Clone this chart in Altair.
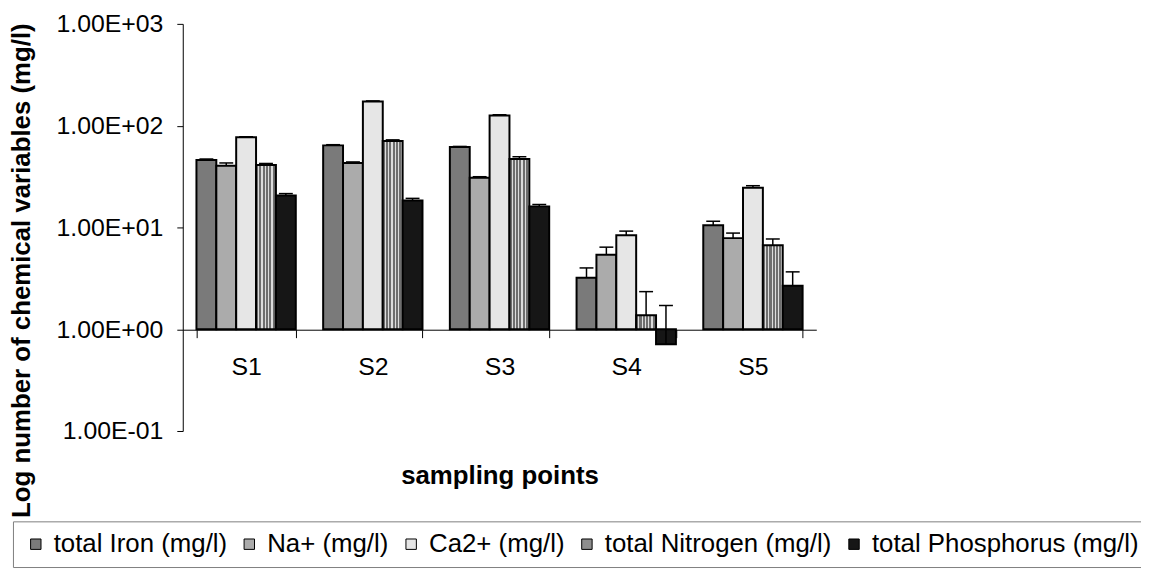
import altair as alt
import pandas as pd

sites = ["S1", "S2", "S3", "S4", "S5"]
series = ["total Iron (mg/l)", "Na+ (mg/l)", "Ca2+ (mg/l)",
          "total Nitrogen (mg/l)", "total Phosphorus (mg/l)"]

iron = [46, 64, 61.6, 3.2, 10.5]
sodium = [40.3, 43, 30.8, 5.4, 7.85]
calcium = [77, 173, 126, 8.4, 24.6]
nitrogen = [41, 70.5, 47, 1.37, 6.7]
phosphorus = [20.6, 18.4, 16.1, 0.71, 2.68]

iron_up = [47, 65, 62.5, 4.0, 11.5]
sodium_up = [43, 44, 31.5, 6.4, 8.8]
calcium_up = [78, 175, 128, 9.2, 25.7]
nitrogen_up = [42.5, 72.5, 49.5, 2.34, 7.7]
phosphorus_up = [21.5, 19.3, 16.8, 1.71, 3.66]

fills = ["#7a7a7a", "#ababab", "#e6e6e6", "#8e8e8e", "#161616"]

vals = [iron, sodium, calcium, nitrogen, phosphorus]
ups = [iron_up, sodium_up, calcium_up, nitrogen_up, phosphorus_up]
rows = []
for s, v, u in zip(series, vals, ups):
    for site, a, b in zip(sites, v, u):
        rows.append({"site": site, "series": s, "value": a, "upper": b})
df = pd.DataFrame(rows)

# vertical stripe texture for the nitrogen bars
stripe_stops = []
n_stripes = 6
for i in range(n_stripes):
    a = i / n_stripes
    b = (i + 0.62) / n_stripes
    c = (i + 1) / n_stripes
    stripe_stops += [
        {"offset": a, "color": "#6e6e6e"},
        {"offset": b, "color": "#6e6e6e"},
        {"offset": b, "color": "#dcdcdc"},
        {"offset": c, "color": "#dcdcdc"},
    ]
stripes = {"gradient": "linear", "x1": 0, "y1": 0, "x2": 1, "y2": 0,
           "stops": stripe_stops}

FONT = "Liberation Sans"
ytitle = "Log number of chemical variables (mg/l)"

yscale = alt.Scale(type="log", domain=[0.1, 1000])
yaxis = alt.Axis(
    values=[0.1, 1, 10, 100, 1000],
    labelExpr="'1.00E' + (round(log(datum.value)/LN10) < 0 ? '-' : '+') + '0' + abs(round(log(datum.value)/LN10))",
    grid=False, tickSize=6, labelPadding=14, labelFontSize=25, labelFont=FONT,
    labelColor="black", domainColor="black", tickColor="black",
    title=ytitle, titleFont=FONT, titleFontSize=26, titleFontWeight="bold",
    titleColor="black", titleX=-175, titleY=248, titleAngle=270,
    titleAlign="center", titleBaseline="top",
)
xaxis = alt.Axis(
    title="sampling points", titleFont=FONT, titleFontSize=26, titleFontWeight="bold",
    titleColor="black", titleBaseline="top", titleY=134,
    labelAngle=0, labelFontSize=25, labelFont=FONT, labelColor="black",
    labelPadding=17, tickSize=8, tickBand="extent", offset=-102,
    domainColor="black", tickColor="black",
)

base = alt.Chart(df).encode(
    x=alt.X("site:N", sort=sites, axis=xaxis,
            scale=alt.Scale(paddingInner=0.216, paddingOuter=0.108)),
    xOffset=alt.XOffset("series:N", sort=series,
                        scale=alt.Scale(domain=series, paddingInner=0, paddingOuter=0)),
)

legend = alt.Legend(
    orient="none", legendX=-171, legendY=501, direction="horizontal",
    columns=5, title=None, symbolType="square", symbolSize=110,
    symbolStrokeColor="black", symbolStrokeWidth=1, symbolOpacity=1,
    labelFontSize=26, labelFont=FONT, labelColor="black", labelLimit=600,
    labelOffset=5, columnPadding=9, strokeColor="#7f7f7f", padding=10,
)

bars = base.mark_bar(stroke="black", strokeWidth=2, opacity=1, fillOpacity=1).encode(
    y=alt.Y("value:Q", scale=yscale, axis=yaxis),
    y2=alt.datum(1),
    fill=alt.condition(
        alt.datum.series == "total Nitrogen (mg/l)",
        alt.value(stripes),
        alt.Fill("series:N", sort=series,
                 scale=alt.Scale(domain=series, range=fills), legend=legend),
    ),
)

rules = base.mark_rule(color="black", strokeWidth=1.5).encode(
    y=alt.Y("value:Q", scale=yscale, axis=yaxis),
    y2="upper:Q",
)

caps = base.mark_tick(color="black", thickness=1.5, size=14, opacity=1).encode(
    y=alt.Y("upper:Q", scale=yscale, axis=yaxis),
)

chart = alt.layer(bars, rules, caps).properties(
    width=638, height=410,
    autosize=alt.AutoSizeParams(type="none"),
    padding={"left": 176, "top": 14, "right": 327, "bottom": 137},
).configure(background="white").configure_view(strokeWidth=0)

chart.save("out.html", embed_options={"renderer": "svg", "actions": False})
